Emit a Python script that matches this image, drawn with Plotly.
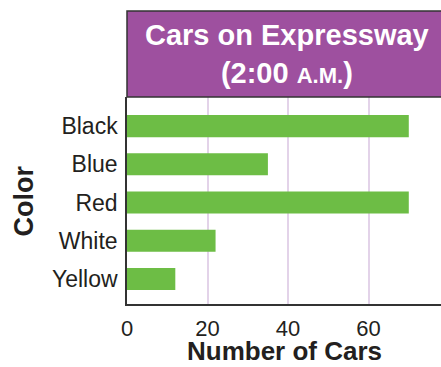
import plotly.graph_objects as go

colors = ["Black", "Blue", "Red", "White", "Yellow"]
cars = [70, 35, 70, 22, 12]
x_ticks = [0, 20, 40, 60]

FONT = "Liberation Sans, Arial, Helvetica, sans-serif"
W, H = 441, 367
L, R, T, B = 127, 0, 97, 63
plot_h = H - T - B
box_top = 11
box_y1 = 1 + (T - box_top) / plot_h

fig = go.Figure()
fig.add_trace(go.Bar(
    x=cars, y=colors, orientation="h",
    marker=dict(color="#6DBD45", line=dict(width=0)),
    width=0.58, hoverinfo="skip",
))

fig.update_layout(
    width=W, height=H,
    margin=dict(l=L, r=R, t=T, b=B, pad=0),
    paper_bgcolor="white", plot_bgcolor="white",
    showlegend=False,
    font=dict(family=FONT, color="#231F20"),
    xaxis=dict(
        range=[0, 78], tickvals=x_ticks, ticktext=[str(v) for v in x_ticks],
        showgrid=True, gridcolor="#E3D3E9", gridwidth=2,
        zeroline=False, showline=True, linecolor="#333333", linewidth=1.5,
        ticks="outside", ticklen=4, tickcolor="rgba(0,0,0,0)",
        tickfont=dict(size=22, family=FONT, color="#231F20"),
        fixedrange=True,
    ),
    yaxis=dict(
        categoryorder="array", categoryarray=colors,
        range=[4.655, -0.76],
        showgrid=False, zeroline=False, showline=True,
        linecolor="#333333", linewidth=1.5,
        ticks="outside", ticklen=3, tickcolor="rgba(0,0,0,0)",
        tickfont=dict(size=23, family=FONT, color="#231F20"),
        fixedrange=True,
    ),
    shapes=[dict(
        type="rect", xref="paper", yref="paper",
        x0=0, x1=1.02, y0=1, y1=box_y1,
        fillcolor="#9E509F", line=dict(color="#333333", width=1.5),
        layer="above",
    )],
    annotations=[
        dict(
            xref="paper", yref="paper", x=0.51, y=1 + (T - 54) / plot_h,
            xanchor="center", yanchor="middle", showarrow=False,
            text="<b>Cars on Expressway<br>(2:00 <span style='font-size:22px'>A.M.</span>)</b>",
            font=dict(size=29, color="white", family=FONT),
        ),
        dict(
            xref="paper", yref="paper", x=0.5, y=-(351 - (H - B)) / plot_h,
            xanchor="center", yanchor="middle", showarrow=False,
            text="<b>Number of Cars</b>",
            font=dict(size=26, color="#231F20", family=FONT),
        ),
        dict(
            xref="paper", yref="paper", x=-(127 - 23) / (W - L - R), y=0.5 - (201.5 - (T + plot_h / 2)) / plot_h,
            xanchor="center", yanchor="middle", showarrow=False, textangle=-90,
            text="<b>Color</b>",
            font=dict(size=27, color="#231F20", family=FONT),
        ),
    ],
)

fig.write_html(
    "out.html",
    config={"displayModeBar": False},
    post_script="document.body.style.margin='0';document.body.style.overflow='hidden';",
)
